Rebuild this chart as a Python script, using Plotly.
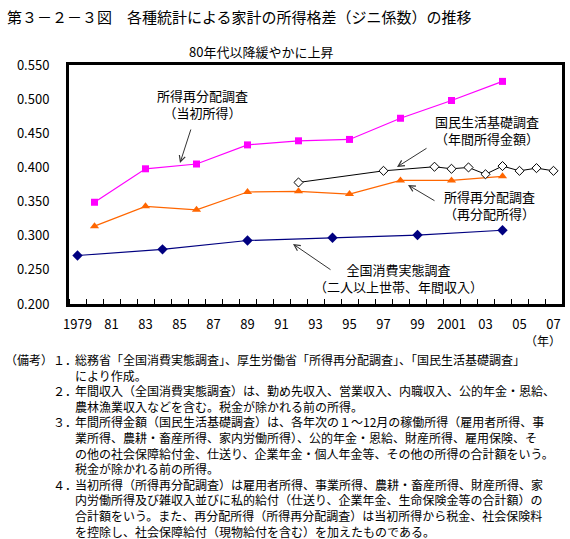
import plotly.graph_objects as go

# ---- data ----
years_zenkoku = [1979, 1984, 1989, 1994, 1999, 2004]
gini_zenkoku = [0.271, 0.280, 0.293, 0.297, 0.301, 0.308]

years_saibunpai = [1980, 1983, 1986, 1989, 1992, 1995, 1998, 2001, 2004]
gini_tosho = [0.349, 0.398, 0.405, 0.433, 0.439, 0.441, 0.472, 0.498, 0.526]
gini_saibunpai = [0.314, 0.343, 0.338, 0.364, 0.365, 0.361, 0.381, 0.381, 0.387]

years_kokumin = [1992, 1997, 2000, 2001, 2002, 2003, 2004, 2005, 2006, 2007]
gini_kokumin = [0.378, 0.395, 0.401, 0.398, 0.400, 0.390, 0.402, 0.395, 0.399, 0.395]

tick_years = list(range(1979, 2008, 2))
tick_labels = ["1979", "81", "83", "85", "87", "89", "91", "93", "95", "97", "99",
               "2001", "03", "05", "07"]
y_ticks = [0.20, 0.25, 0.30, 0.35, 0.40, 0.45, 0.50, 0.55]

title_text = "第３－２－３図　各種統計による家計の所得格差（ジニ係数）の推移"
subtitle_text = "80年代以降緩やかに上昇"

notes = [
    ("（備考）", "１．", "総務省「全国消費実態調査」、厚生労働省「所得再分配調査」、「国民生活基礎調査」"),
    ("", "", "により作成。"),
    ("", "２．", "年間収入（全国消費実態調査）は、勤め先収入、営業収入、内職収入、公的年金・恩給、"),
    ("", "", "農林漁業収入などを含む。税金が除かれる前の所得。"),
    ("", "３．", "年間所得金額（国民生活基礎調査）は、各年次の１～12月の稼働所得（雇用者所得、事"),
    ("", "", "業所得、農耕・畜産所得、家内労働所得）、公的年金・恩給、財産所得、雇用保険、そ"),
    ("", "", "の他の社会保障給付金、仕送り、企業年金・個人年金等、その他の所得の合計額をいう。"),
    ("", "", "税金が除かれる前の所得。"),
    ("", "４．", "当初所得（所得再分配調査）は雇用者所得、事業所得、農耕・畜産所得、財産所得、家"),
    ("", "", "内労働所得及び雑収入並びに私的給付（仕送り、企業年金、生命保険金等の合計額）の"),
    ("", "", "合計額をいう。また、再分配所得（所得再分配調査）は当初所得から税金、社会保険料"),
    ("", "", "を控除し、社会保障給付（現物給付を含む）を加えたものである。"),
]

FONT = "Noto Sans CJK JP"

W, H = 570, 539
L, R, T, B = 69, 8, 65, 235
PW = W - L - R
PH = H - T - B


def pxx(x):
    return (x - L) / PW


def pxy(y):
    return (H - B - y) / PH


fig = go.Figure()

fig.add_trace(go.Scatter(
    x=years_zenkoku, y=gini_zenkoku, mode="lines+markers",
    line=dict(color="#000080", width=1.2),
    marker=dict(symbol="diamond", size=8, color="#000080"),
))
fig.add_trace(go.Scatter(
    x=years_saibunpai, y=gini_tosho, mode="lines+markers",
    line=dict(color="#FF00FF", width=1.2),
    marker=dict(symbol="square", size=7, color="#FF00FF"),
))
fig.add_trace(go.Scatter(
    x=years_saibunpai, y=gini_saibunpai, mode="lines+markers",
    line=dict(color="#FF6600", width=1.2),
    marker=dict(symbol="triangle-up", size=8, color="#FF6600"),
))
fig.add_trace(go.Scatter(
    x=years_kokumin, y=gini_kokumin, mode="lines+markers",
    line=dict(color="black", width=1),
    marker=dict(symbol="diamond", size=7, color="white",
                line=dict(color="black", width=1)),
))

annotations = []

# title and subtitle
annotations.append(dict(xref="paper", yref="paper", x=pxx(5), y=pxy(17),
                        xanchor="left", yanchor="middle", showarrow=False,
                        text=title_text, font=dict(size=15, color="black", family=FONT)))
annotations.append(dict(xref="paper", yref="paper", x=pxx(261), y=pxy(52),
                        xanchor="center", yanchor="middle", showarrow=False,
                        text=subtitle_text, font=dict(size=13, color="black", family=FONT)))
annotations.append(dict(xref="paper", yref="paper", x=pxx(543), y=pxy(340),
                        xanchor="center", yanchor="middle", showarrow=False,
                        text="（年）", font=dict(size=12, color="black", family=FONT)))

# series labels (two lines each): text, center x, center y (pixels)
labels = [
    ("所得再分配調査<br>（当初所得）", 202, 104),
    ("国民生活基礎調査<br>（年間所得金額）", 487, 130),
    ("所得再分配調査<br>（再分配所得）", 489, 205),
    ("全国消費実態調査<br>（二人以上世帯、年間収入）", 398, 278),
]
for txt, x, y in labels:
    annotations.append(dict(xref="paper", yref="paper", x=pxx(x), y=pxy(y),
                            xanchor="center", yanchor="middle", showarrow=False,
                            text=txt, align="center",
                            font=dict(size=13, color="black", family=FONT)))

# arrows: (tail_x, tail_y, head_x, head_y) in pixels
arrows = [
    (191, 129, 180, 163),
    (427, 148, 397, 167),
    (435, 201, 408, 185),
    (331, 270, 293, 244),
]
for tx, ty, hx, hy in arrows:
    annotations.append(dict(xref="paper", yref="paper", x=pxx(hx), y=pxy(hy),
                            axref="pixel", ayref="pixel", ax=tx - hx, ay=ty - hy,
                            text="", font=dict(size=1), borderpad=0,
                            showarrow=True, arrowhead=5, arrowsize=1.2,
                            arrowwidth=1, arrowcolor="#333333"))

# notes: three columns, each one multi-line annotation
col_a = "<br>".join(a if a else " " for a, b, c in notes)
col_b = "<br>".join(b if b else " " for a, b, c in notes)
col_c = "<br>".join(c for a, b, c in notes)
note_top = 349
for txt, x in [(col_a, 3), (col_b, 51), (col_c, 73)]:
    annotations.append(dict(xref="paper", yref="paper", x=pxx(x), y=pxy(note_top),
                            xanchor="left", yanchor="top", showarrow=False,
                            text=txt, align="left",
                            font=dict(size=12, color="black", family=FONT)))

fig.update_layout(
    width=W, height=H,
    margin=dict(l=L, r=R, t=T, b=B),
    paper_bgcolor="white", plot_bgcolor="white",
    showlegend=False,
    font=dict(family=FONT, size=12, color="black"),
    annotations=annotations,
    xaxis=dict(
        range=[1978.5, 2007.5], tickmode="array", tickvals=tick_years,
        ticktext=tick_labels, ticks="", showgrid=False, zeroline=False,
        showline=True, linewidth=3, linecolor="black", mirror=True,
        automargin=False,
        tickfont=dict(size=13, family=FONT), ticklabelstandoff=6,
        minor=dict(tickmode="linear", tick0=1978.5, dtick=1, ticks="inside",
                   ticklen=5, tickwidth=1, tickcolor="black", showgrid=False),
    ),
    yaxis=dict(
        range=[0.2, 0.55], tickmode="array", tickvals=y_ticks,
        tickformat=".3f", ticks="", showgrid=False, zeroline=False,
        showline=True, linewidth=3, linecolor="black", mirror=True,
        automargin=False,
        tickfont=dict(size=13, family=FONT), ticklabelstandoff=14,
    ),
)

fig.write_html(
    "out.html",
    config={"displayModeBar": False},
    post_script="document.body.style.margin='0';document.body.style.padding='0';",
)
